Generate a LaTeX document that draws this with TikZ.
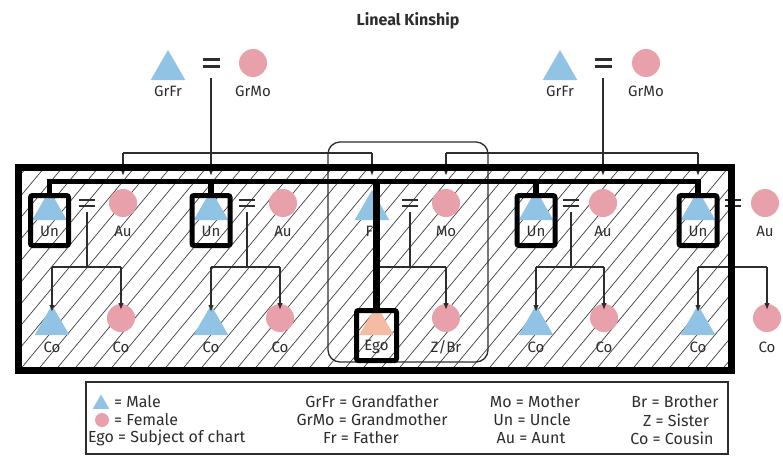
\documentclass[tikz,border=0pt]{standalone}
\usepackage{fontspec}
\setmainfont{Fira Sans}
\usetikzlibrary{shapes.geometric,arrows.meta}
\definecolor{male}{RGB}{145,196,228}
\definecolor{female}{RGB}{232,160,170}
\definecolor{egoc}{RGB}{246,187,163}
\definecolor{txt}{RGB}{45,45,45}
\newcommand\eqmark[5]{% x y halfwidth halfgap linewidth
  \draw[line width=#5, draw=txt] (#1-#3,#2-#4) -- (#1+#3,#2-#4) (#1-#3,#2+#4) -- (#1+#3,#2+#4);}
\begin{document}
\begin{tikzpicture}[x=1pt,y=-1pt,
  tri/.style={regular polygon, regular polygon sides=3, fill=male, minimum size=40pt, inner sep=0pt, outer sep=0pt},
  circ/.style={circle, fill=female, minimum size=28pt, inner sep=0pt, outer sep=0pt},
  lab/.style={font=\fontsize{15}{17}\selectfont, text=txt, inner sep=0pt},
  leg/.style={font=\fontsize{16}{18}\selectfont, text=txt, inner sep=0pt},
  thinl/.style={line width=1.3pt, draw=txt},
  arr/.style={thinl, -{Latex[length=7pt,width=5.5pt]}},
  thickl/.style={line width=5.5pt, draw=black, line join=miter},
  kbox/.style={draw=black, line width=5pt, minimum width=38pt, minimum height=50pt, rounded corners=2pt, inner sep=0pt},
  hatch/.style={line width=0.7pt, draw=black!75}]
\useasboundingbox (0,0) rectangle (783,466);
\fill[white] (0,0) rectangle (783,466);
% title
\node[font=\fontsize{16}{18}\selectfont\bfseries, text=txt, inner sep=0pt] (title) at (408,21) {Lineal Kinship};
% hatch
\begin{scope}
\clip (22,171) rectangle (728,367);
\foreach \i in {-12,...,42} {\draw[hatch] ({\i*18},372) -- ({\i*18+170},168);}
\end{scope}
% middle rounded frame
\draw[thinl, rounded corners=12pt] (328,142) rectangle (488,362);
% grandparents
\node[tri] (gf1) at (168,70) {};
\node[circ] (gm1) at (253,63) {};
\eqmark{211}{63}{8.5}{3.5}{2.5pt}
\coordinate (d1) at (211,78);
\node[lab] (gf1l) at (168,91) {GrFr};
\node[lab] (gm1l) at (253,91) {GrMo};
\node[tri] (gf2) at (560,70) {};
\node[circ] (gm2) at (646,63) {};
\eqmark{603}{63}{8.5}{3.5}{2.5pt}
\coordinate (d2) at (603,78);
\node[lab] (gf2l) at (560,91) {GrFr};
\node[lab] (gm2l) at (646,91) {GrMo};
% parents generation
\node[tri] (un1) at (49.5,210) {};
\node[circ] (au1) at (123,203) {};
\node[tri] (un2) at (211,210) {};
\node[circ] (au2) at (283,203) {};
\node[tri] (fr) at (372,210) {};
\node[circ] (mo) at (446,203) {};
\node[tri] (un3) at (536,210) {};
\node[circ] (au3) at (603,203) {};
\node[tri] (un4) at (698,210) {};
\node[circ] (au4) at (765,203) {};
\eqmark{87}{203}{8}{3}{2pt}
\eqmark{247}{203}{8}{3}{2pt}
\eqmark{410}{203}{8}{3}{2pt}
\eqmark{571}{203}{8}{3}{2pt}
\eqmark{733}{203}{8}{3}{2pt}
\coordinate (e1) at (87,212);
\coordinate (e2) at (247,212);
\coordinate (e3) at (410,212);
\coordinate (e4) at (571,212);
% children generation
\node[tri] (co1) at (52,325) {};
\node[circ] (co2) at (121,318) {};
\node[tri] (co3) at (211,325) {};
\node[circ] (co4) at (280,318) {};
\node[tri, fill=egoc] (ego) at (376.5,325) {};
\node[circ] (zbr) at (446,318) {};
\node[tri] (co5) at (536,325) {};
\node[circ] (co6) at (604,318) {};
\node[tri] (co7) at (698,325) {};
\node[circ] (co8) at (767,318) {};
% labels
\foreach \n/\x/\t in {l1/49.5/Un, l2/123/Au, l3/211/Un, l4/283/Au, l5/372/Fr, l6/446/Mo, l7/536/Un, l8/603/Au, l9/698/Un, l10/765/Au}
  {\node[lab] (\n) at (\x,231) {\t};}
\foreach \n/\x/\t in {m1/52/Co, m2/121/Co, m3/211/Co, m4/280/Co, m5/376.5/Ego, m6/446/{Z/Br}, m7/536/Co, m8/604/Co, m9/698/Co, m10/767/Co}
  {\node[lab] (\n) at (\x,347) {\t};}
% descent from grandparents
\coordinate (h1) at (211,153);
\coordinate (h2) at (603,153);
\draw[arr] (d1) -- (211,176);
\draw[thinl] (123,153) -- (372,153);
\draw[arr] (au1 |- h1) -- (123,176);
\draw[arr] (fr |- h1) -- (372,176);
\draw[arr] (d2) -- (603,176);
\draw[thinl] (446,153) -- (698,153);
\draw[arr] (mo |- h2) -- (446,176);
\draw[arr] (un4 |- h2) -- (698,176);
% descent to children
\foreach \e/\a/\b in {e1/co1/co2, e2/co3/co4, e4/co5/co6} {
  \draw[thinl] (\e) -- (\e |- 0,267);
  \draw[thinl] (\a |- 0,267) -- (\b |- 0,267);
  \draw[arr] (\a |- 0,267) -- ([yshift=-7pt]\a.north);
  \draw[arr] (\b |- 0,267) -- ([yshift=-6pt]\b.north);
}
\draw[thinl] (e3) -- (e3 |- 0,267);
\draw[thinl] (ego |- 0,267) -- (zbr |- 0,267);
\draw[arr] (zbr |- 0,267) -- ([yshift=-6pt]zbr.north);
\draw[thinl] (co7 |- 0,267) -- (co8 |- 0,267);
\draw[arr] (co7 |- 0,267) -- ([yshift=-7pt]co7.north);
\draw[arr] (co8 |- 0,267) -- ([yshift=-6pt]co8.north);
% highlighted boxes
\node[kbox] (ub1) at (49.5,220.5) {};
\node[kbox] (ub2) at (211,220.5) {};
\node[kbox] (ub3) at (536,220.5) {};
\node[kbox] (ub4) at (698,220.5) {};
\node[kbox, minimum width=40pt] (egob) at (376.5,335.5) {};
\coordinate (bar) at (0,181.5);
\draw[thickl] (ub1.north) -- (ub1.north |- bar) -- (ub4.north |- bar) -- (ub4.north);
\draw[thickl] (ub2.north) -- (ub2.north |- bar);
\draw[thickl] (ub3.north) -- (ub3.north |- bar);
\draw[line width=6.5pt] (egob.north) -- (egob.north |- bar);
% outer frame
\draw[line width=7pt, line join=miter] (18.5,167.5) rectangle (731.5,370.5);
% legend
\node[draw=txt, line width=1.5pt, minimum width=642pt, minimum height=72pt, inner sep=0pt] (legend) at (407,418) {};
\node[regular polygon, regular polygon sides=3, fill=male, minimum size=19pt, inner sep=0pt] (legm) at (101,404) {};
\node[circle, fill=female, minimum size=14pt, inner sep=0pt] (legf) at (102,420) {};
\node[leg, anchor=west] (t1) at (114,402) {= Male};
\node[leg, anchor=west] (t2) at (114,420) {= Female};
\node[leg, anchor=west] (t3) at (88,438) {Ego = Subject of chart};
\node[leg] (t4) at (372,402) {GrFr = Grandfather};
\node[leg] (t5) at (372,420) {GrMo = Grandmother};
\node[leg] (t6) at (361,438) {Fr = Father};
\node[leg] (t7) at (535,402) {Mo = Mother};
\node[leg] (t8) at (532,420) {Un = Uncle};
\node[leg] (t9) at (531,438) {Au = Aunt};
\node[leg] (t10) at (675,402) {Br = Brother};
\node[leg] (t11) at (676,420) {Z = Sister};
\node[leg] (t12) at (672,438) {Co = Cousin};
\end{tikzpicture}
\end{document}
